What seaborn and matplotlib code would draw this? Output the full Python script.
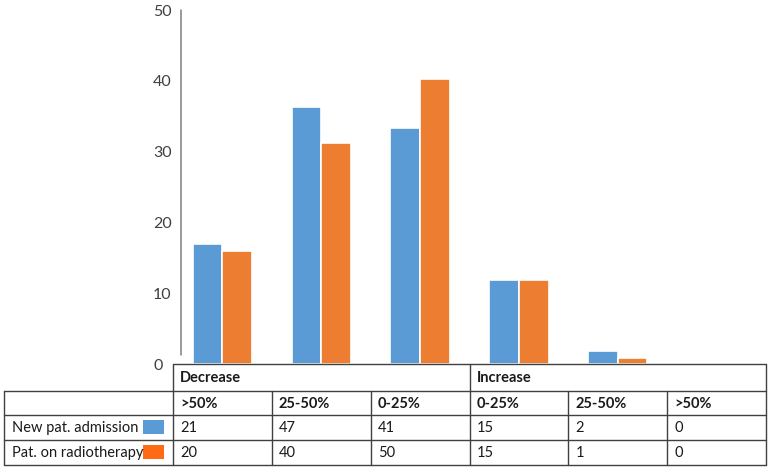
import matplotlib
matplotlib.use("Agg")
import matplotlib.pyplot as plt
import numpy as np
import pandas as pd
import seaborn as sns

# data
groups = ["Decrease", "Decrease", "Decrease", "Increase", "Increase", "Increase"]
ranges = [">50%", "25-50%", "0-25%", "0-25%", "25-50%", ">50%"]
series = ["New pat. admission", "Pat. on radiotherapy"]
# bar heights (as drawn on the y axis)
new_pat_bars = [17.0, 36.3, 33.3, 11.9, 1.8, 0.0]
radio_bars = [16.0, 31.2, 40.3, 11.9, 0.8, 0.0]
# counts printed in the table
new_pat_counts = [21, 47, 41, 15, 2, 0]
radio_counts = [20, 40, 50, 15, 1, 0]
yticks = [0, 10, 20, 30, 40, 50]

bar_colors = ["#5B9BD5", "#ED7D31"]
legend_colors = ["#5B9BD5", "#FF6B15"]
line_col = "#404040"
text_col = "#1A1A1A"

W, H = 771, 468
sns.set_theme(style="white")
plt.rcParams["font.family"] = ["Lato", "DejaVu Sans"]

fig = plt.figure(figsize=(W / 100, H / 100), dpi=100)

# chart area
x0, x1 = 173, 766
y_zero, y_top = 364, 10
ax = fig.add_axes([x0 / W, (H - y_zero) / H, (x1 - x0) / W, (y_zero - y_top) / H])
ax.patch.set_alpha(0)

# overlay in pixel coordinates for the table and axis line
tax = fig.add_axes([0, 0, 1, 1])
tax.set_xlim(0, W)
tax.set_ylim(H, 0)
tax.axis("off")
tax.set_zorder(3)

keys = [f"{g} {r}" for g, r in zip(groups, ranges)]
df = pd.DataFrame({
    "cat": keys * 2,
    "value": new_pat_bars + radio_bars,
    "series": [series[0]] * 6 + [series[1]] * 6,
})
sns.barplot(data=df, x="cat", y="value", hue="series", order=keys,
            hue_order=series, palette=bar_colors, saturation=1, width=0.6,
            edgecolor="white", linewidth=1.2, legend=False, ax=ax)

ax.set_xlim(-0.5, 5.5)
ax.set_ylim(0, 50)
ax.set_xlabel("")
ax.set_ylabel("")
ax.set_xticks([])
ax.set_yticks(yticks)
ax.set_yticklabels([str(t) for t in yticks])
ax.tick_params(axis="y", length=0, pad=14.4, labelsize=11.5, labelcolor=line_col)
for lbl in ax.get_yticklabels():
    lbl.set_ha("left")
for s in ax.spines.values():
    s.set_visible(False)

# y axis line
tax.plot([181, 181], [10, 355], color="#7F7F7F", lw=1.1)

# table grid
col_w = (x1 - x0) / 6
col_x = [x0 + i * col_w for i in range(7)]
rows = [364, 391, 415, 440, 465]
lw = 1.0
# horizontal lines
tax.plot([x0, x1], [rows[0], rows[0]], color=line_col, lw=lw)
for yy in rows[1:]:
    tax.plot([4, x1], [yy, yy], color=line_col, lw=lw)
# vertical lines
tax.plot([4, 4], [rows[1], rows[4]], color=line_col, lw=lw)
for i, xx in enumerate(col_x):
    if i in (0, 3, 6):
        tax.plot([xx, xx], [rows[0], rows[4]], color=line_col, lw=lw)
    else:
        tax.plot([xx, xx], [rows[1], rows[4]], color=line_col, lw=lw)

def mid(r):
    return (rows[r] + rows[r + 1]) / 2 + 0.5

pad = 7
tax.text(col_x[0] + pad, mid(0), "Decrease", fontsize=10.5, fontweight="bold",
         color=text_col, va="center", ha="left")
tax.text(col_x[3] + pad, mid(0), "Increase", fontsize=10.5, fontweight="bold",
         color=text_col, va="center", ha="left")
for i, r in enumerate(ranges):
    tax.text(col_x[i] + pad, mid(1), r, fontsize=10.5, fontweight="bold",
             color=text_col, va="center", ha="left")
for ri, (name, counts) in enumerate(zip(series, [new_pat_counts, radio_counts])):
    tax.text(12, mid(2 + ri), name, fontsize=10.5, color=text_col,
             va="center", ha="left")
    tax.add_patch(plt.Rectangle((143, rows[2 + ri] + 5), 21, 14,
                                facecolor=legend_colors[ri], edgecolor="none"))
    for i, c in enumerate(counts):
        tax.text(col_x[i] + pad, mid(2 + ri), str(c), fontsize=10.5,
                 color=text_col, va="center", ha="left")

fig.savefig("out.png", dpi=100)
